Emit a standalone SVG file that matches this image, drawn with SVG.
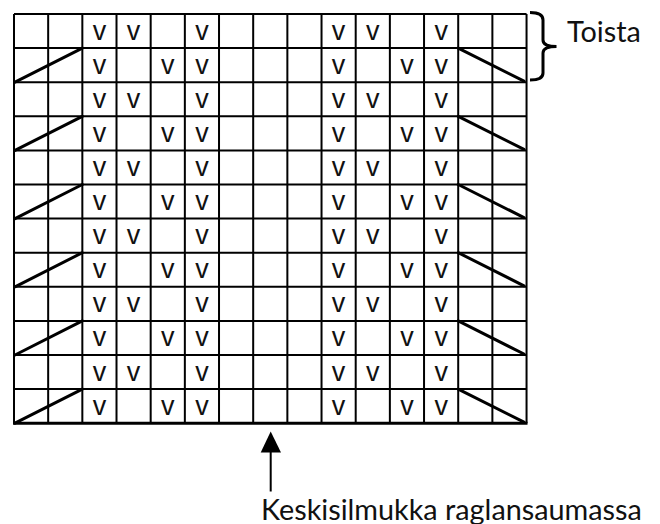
<svg xmlns="http://www.w3.org/2000/svg" width="660" height="524" viewBox="0 0 660 524">
<defs>
<style>
.grid{fill:none;stroke:#000;stroke-width:2}
.diag{stroke:#000;stroke-width:3;stroke-linecap:round}
.v{font-family:"Liberation Sans",Arial,sans-serif;font-size:27px;fill:#111;text-anchor:middle}
.lbl{font-family:Lato,"Liberation Sans",sans-serif;font-size:28.8px;fill:#111}
</style>
</defs>
<rect width="660" height="524" fill="#fff"/>
<g id="chart">
<path class="grid" d="M14 14V423.2M48.17 14V423.2M82.34 14V423.2M116.51 14V423.2M150.68 14V423.2M184.85 14V423.2M219.02 14V423.2M253.19 14V423.2M287.36 14V423.2M321.53 14V423.2M355.7 14V423.2M389.87 14V423.2M424.04 14V423.2M458.21 14V423.2M492.38 14V423.2M526.55 14V423.2
M14 14H526.55M14 48.1H526.55M14 82.2H526.55M14 116.3H526.55M14 150.4H526.55M14 184.5H526.55M14 218.6H526.55M14 252.7H526.55M14 286.8H526.55M14 320.9H526.55M14 355H526.55M14 389.1H526.55"/>
<path class="grid" style="stroke-width:3" d="M13 423.2H527.5"/>
<path class="diag" d="M15 82.2L82.34 48.1M15 150.4L82.34 116.3M15 218.6L82.34 184.5M15 286.8L82.34 252.7M15 355L82.34 320.9M15 423.2L82.34 389.1
M458.21 48.1L524 81.2M458.21 116.3L524 149.4M458.21 184.5L524 217.6M458.21 252.7L524 285.8M458.21 320.9L524 354M458.21 389.1L524 422.2"/>
<g id="stitches">
<text class="v" x="99.43" y="39.55">v</text><text class="v" x="133.6" y="39.55">v</text><text class="v" x="201.94" y="39.55">v</text><text class="v" x="338.62" y="39.55">v</text><text class="v" x="372.79" y="39.55">v</text><text class="v" x="441.13" y="39.55">v</text>
<text class="v" x="99.43" y="73.65">v</text><text class="v" x="167.77" y="73.65">v</text><text class="v" x="201.94" y="73.65">v</text><text class="v" x="338.62" y="73.65">v</text><text class="v" x="406.96" y="73.65">v</text><text class="v" x="441.13" y="73.65">v</text>
<text class="v" x="99.43" y="107.75">v</text><text class="v" x="133.6" y="107.75">v</text><text class="v" x="201.94" y="107.75">v</text><text class="v" x="338.62" y="107.75">v</text><text class="v" x="372.79" y="107.75">v</text><text class="v" x="441.13" y="107.75">v</text>
<text class="v" x="99.43" y="141.85">v</text><text class="v" x="167.77" y="141.85">v</text><text class="v" x="201.94" y="141.85">v</text><text class="v" x="338.62" y="141.85">v</text><text class="v" x="406.96" y="141.85">v</text><text class="v" x="441.13" y="141.85">v</text>
<text class="v" x="99.43" y="175.95">v</text><text class="v" x="133.6" y="175.95">v</text><text class="v" x="201.94" y="175.95">v</text><text class="v" x="338.62" y="175.95">v</text><text class="v" x="372.79" y="175.95">v</text><text class="v" x="441.13" y="175.95">v</text>
<text class="v" x="99.43" y="210.05">v</text><text class="v" x="167.77" y="210.05">v</text><text class="v" x="201.94" y="210.05">v</text><text class="v" x="338.62" y="210.05">v</text><text class="v" x="406.96" y="210.05">v</text><text class="v" x="441.13" y="210.05">v</text>
<text class="v" x="99.43" y="244.15">v</text><text class="v" x="133.6" y="244.15">v</text><text class="v" x="201.94" y="244.15">v</text><text class="v" x="338.62" y="244.15">v</text><text class="v" x="372.79" y="244.15">v</text><text class="v" x="441.13" y="244.15">v</text>
<text class="v" x="99.43" y="278.25">v</text><text class="v" x="167.77" y="278.25">v</text><text class="v" x="201.94" y="278.25">v</text><text class="v" x="338.62" y="278.25">v</text><text class="v" x="406.96" y="278.25">v</text><text class="v" x="441.13" y="278.25">v</text>
<text class="v" x="99.43" y="312.35">v</text><text class="v" x="133.6" y="312.35">v</text><text class="v" x="201.94" y="312.35">v</text><text class="v" x="338.62" y="312.35">v</text><text class="v" x="372.79" y="312.35">v</text><text class="v" x="441.13" y="312.35">v</text>
<text class="v" x="99.43" y="346.45">v</text><text class="v" x="167.77" y="346.45">v</text><text class="v" x="201.94" y="346.45">v</text><text class="v" x="338.62" y="346.45">v</text><text class="v" x="406.96" y="346.45">v</text><text class="v" x="441.13" y="346.45">v</text>
<text class="v" x="99.43" y="380.55">v</text><text class="v" x="133.6" y="380.55">v</text><text class="v" x="201.94" y="380.55">v</text><text class="v" x="338.62" y="380.55">v</text><text class="v" x="372.79" y="380.55">v</text><text class="v" x="441.13" y="380.55">v</text>
<text class="v" x="99.43" y="414.65">v</text><text class="v" x="167.77" y="414.65">v</text><text class="v" x="201.94" y="414.65">v</text><text class="v" x="338.62" y="414.65">v</text><text class="v" x="406.96" y="414.65">v</text><text class="v" x="441.13" y="414.65">v</text>
</g>
</g>
<g id="repeat">
<path d="M530 12.5Q543 12.5 543 20V40Q543 46.5 556.5 46.5Q543 46.5 543 53V73Q543 80 530 80" fill="none" stroke="#000" stroke-width="3"/>
<text class="lbl" x="567" y="41.5">Toista</text>
</g>
<g id="center">
<path d="M270.7 491.5V451" stroke="#000" stroke-width="2"/>
<path d="M260.7 452.5L270.7 431.5L281 452.5Z" fill="#000"/>
<text class="lbl" x="261" y="519.5">Keskisilmukka raglansaumassa</text>
</g>
</svg>
